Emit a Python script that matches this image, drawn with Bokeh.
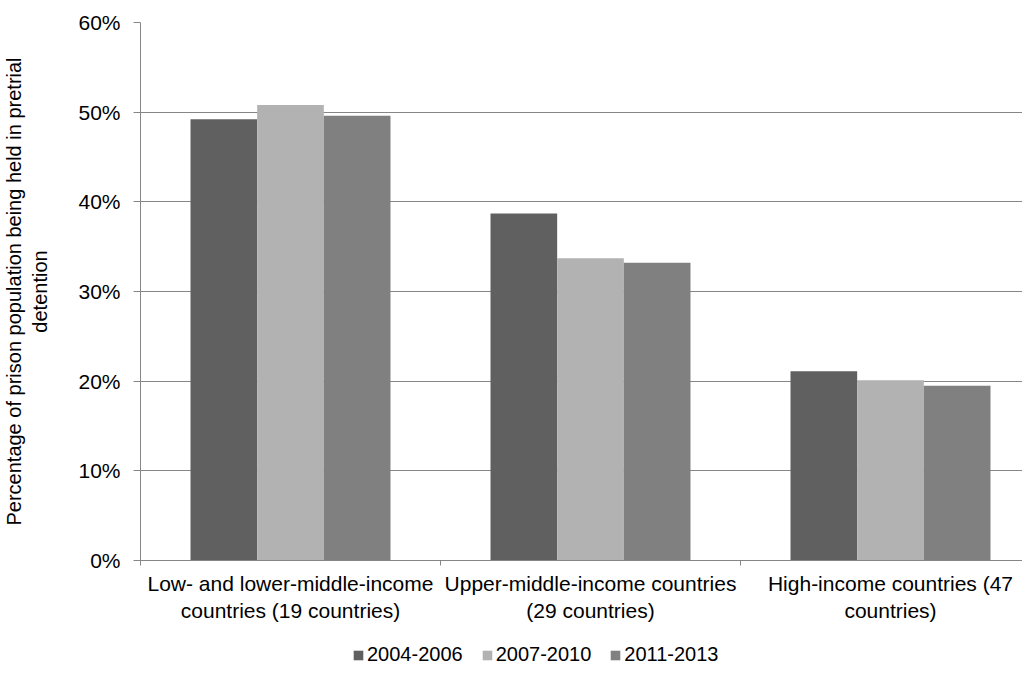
from bokeh.plotting import figure
from bokeh.models import FixedTicker, PrintfTickFormatter, Legend, LegendItem, Range1d
from bokeh.layouts import column
from bokeh.embed import file_html
from bokeh.resources import INLINE

categories = ["Low- and lower-middle-income\ncountries (19 countries)",
              "Upper-middle-income countries\n(29 countries)",
              "High-income countries (47\ncountries)"]
series = ["2004-2006", "2007-2010", "2011-2013"]
v2004_2006 = [49.2, 38.7, 21.1]
v2007_2010 = [50.8, 33.7, 20.1]
v2011_2013 = [49.6, 33.2, 19.5]
colors = ["#606060", "#b2b2b2", "#808080"]

FONT = "Liberation Sans"
GRID = "#868686"

p = figure(frame_width=882, frame_height=538, output_backend="svg", toolbar_location=None,
           x_range=Range1d(0, 2.94), y_range=Range1d(0, 60),
           min_border_left=133, min_border_top=22, min_border_right=0, min_border_bottom=0)
p.outline_line_color = None
p.xgrid.grid_line_color = None
p.ygrid.grid_line_color = GRID
p.ygrid.grid_line_width = 1
p.ygrid.ticker = FixedTicker(ticks=[10, 20, 30, 40, 50, 60])

all_values = [v2004_2006, v2007_2010, v2011_2013]
width = 0.2222
offsets = [-width, 0.0, width]
for vals, col, off in zip(all_values, colors, offsets):
    xs = [i + 0.5 + off for i in range(len(categories))]
    p.vbar(x=xs, top=vals, width=width, fill_color=col, line_color=None)

# y axis
p.yaxis.ticker = FixedTicker(ticks=[0, 10, 20, 30, 40, 50, 60])
p.yaxis.formatter = PrintfTickFormatter(format="%d%%")
p.yaxis.axis_line_color = GRID
p.yaxis.major_tick_line_color = GRID
p.yaxis.major_tick_out = 7
p.yaxis.major_tick_in = 0
p.yaxis.minor_tick_line_color = None
p.yaxis.major_label_text_font = FONT
p.yaxis.major_label_text_font_size = "21px"
p.yaxis.major_label_text_color = "#000000"
p.yaxis.major_label_standoff = 13
p.yaxis.axis_label = "Percentage of prison population being held in pretrial\ndetention"
p.yaxis.axis_label_text_font = FONT
p.yaxis.axis_label_text_font_size = "20px"
p.yaxis.axis_label_text_font_style = "normal"
p.yaxis.axis_label_text_color = "#000000"
p.yaxis.axis_label_standoff = 24

# x axis
p.xaxis.ticker = FixedTicker(ticks=[0.5, 1.5, 2.5], minor_ticks=[0, 1, 2, 3])
p.xaxis.major_label_overrides = {i + 0.5: c for i, c in enumerate(categories)}
p.xaxis.axis_line_color = GRID
p.xaxis.major_tick_line_color = None
p.xaxis.minor_tick_line_color = GRID
p.xaxis.minor_tick_out = 5
p.xaxis.minor_tick_in = 0
p.xaxis.major_label_text_font = FONT
p.xaxis.major_label_text_font_size = "21px"
p.xaxis.major_label_text_color = "#000000"
p.xaxis.major_label_standoff = 5

# legend strip: same series drawn far out of view, only the legend shows
lf = figure(width=1015, height=42, output_backend="svg", toolbar_location=None,
            x_range=Range1d(0, 3), y_range=Range1d(1000, 1010),
            min_border_left=0, min_border_right=0, min_border_top=0, min_border_bottom=0)
lf.xaxis.visible = False
lf.yaxis.visible = False
lf.xgrid.visible = False
lf.ygrid.visible = False
lf.outline_line_color = None
items = []
for name, vals, col, off in zip(series, all_values, colors, offsets):
    xs = [i + 0.5 + off for i in range(len(categories))]
    r = lf.vbar(x=xs, top=vals, width=width, fill_color=col, line_color=None)
    items.append(LegendItem(label=name, renderers=[r]))
legend = Legend(items=items, orientation="horizontal", location=(212, 1),
                label_text_font=FONT, label_text_font_size="20px",
                label_text_color="#000000", label_height=20,
                glyph_width=12, glyph_height=12, spacing=18, label_standoff=3,
                border_line_color=None, background_fill_alpha=0, padding=0, margin=0)
lf.add_layout(legend, "center")

open("out.html", "w").write(file_html(column(p, lf, spacing=0), INLINE))
